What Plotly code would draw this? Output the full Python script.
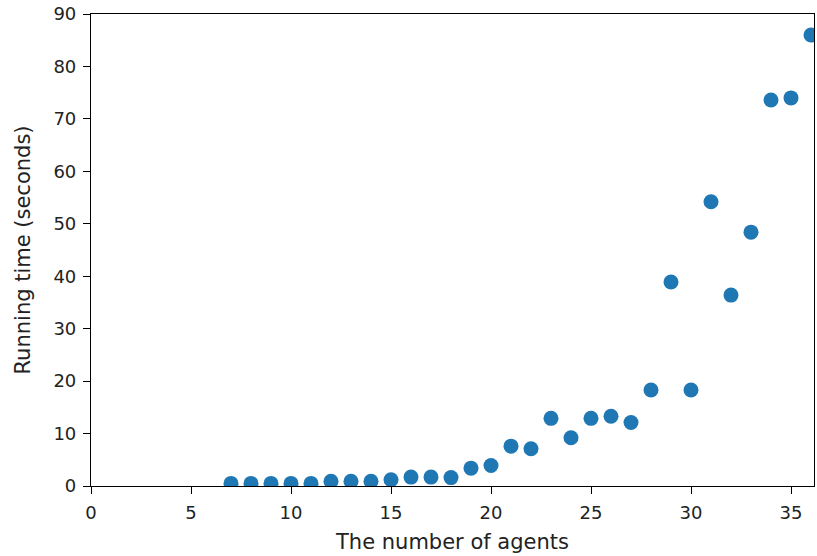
import plotly.graph_objects as go

agents = [7, 8, 9, 10, 11, 12, 13, 14, 15, 16, 17, 18, 19, 20, 21, 22, 23, 24, 25, 26, 27, 28, 29, 30, 31, 32, 33, 34, 35, 36]
running_time = [0.5, 0.5, 0.5, 0.5, 0.5, 0.9, 0.9, 0.9, 1.2, 1.7, 1.7, 1.6, 3.4, 3.9, 7.6, 7.1, 12.9, 9.2, 12.9, 13.3, 12.1, 18.3, 38.9, 18.3, 54.2, 36.4, 48.4, 73.6, 74.0, 86.0]

x_ticks = [0, 5, 10, 15, 20, 25, 30, 35]
y_ticks = [0, 10, 20, 30, 40, 50, 60, 70, 80, 90]

FONT = "DejaVu Sans"

fig = go.Figure()
fig.add_trace(go.Scatter(
    x=agents, y=running_time, mode="markers",
    marker=dict(color="#1f77b4", size=15, line=dict(width=0)),
    cliponaxis=True,
))

axis_common = dict(
    showgrid=False, zeroline=False, showline=True, linecolor="black", linewidth=1.2,
    mirror=True, ticks="outside", ticklen=7, tickcolor="black", tickwidth=1,
    ticklabelstandoff=3,
    tickfont=dict(family=FONT, size=18, color="#222"),
)
fig.update_xaxes(range=[0, 36.15], tickvals=x_ticks,
                 title=dict(text="The number of agents", font=dict(family=FONT, size=21, color="#222"), standoff=12),
                 **axis_common)
fig.update_yaxes(range=[0, 90], tickvals=y_ticks,
                 title=dict(text="Running time (seconds)", font=dict(family=FONT, size=21, color="#222"), standoff=17),
                 **axis_common)

fig.update_layout(
    width=817, height=556,
    margin=dict(l=91, r=3, t=14, b=70),
    paper_bgcolor="white", plot_bgcolor="white",
    showlegend=False,
)
fig.write_html("out.html")
